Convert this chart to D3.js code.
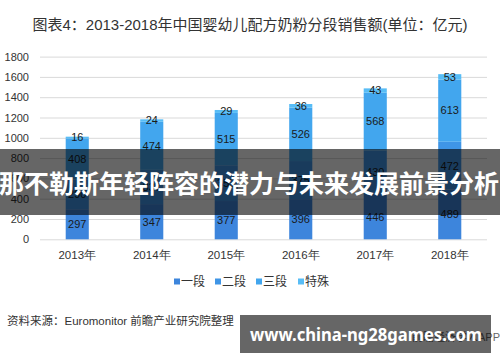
<!DOCTYPE html>
<html>
<head>
<meta charset="utf-8">
<script src="https://cdn.jsdelivr.net/npm/d3@7"></script>
<style>
  body { margin: 0; background: #fff; }
  svg { display: block; font-family: "Liberation Sans", "Noto Sans CJK SC", sans-serif; }
</style>
</head>
<body>
<svg id="chart" width="500" height="362"></svg>
<script>
// data
var years = ["2013年", "2014年", "2015年", "2016年", "2017年", "2018年"];
var seriesNames = ["一段", "二段", "三段", "特殊"];
var stage1 = [297, 347, 377, 396, 446, 489];
var stage2 = [290, 337, 353, 375, 430, 472];
var stage3 = [408, 474, 515, 526, 568, 613];
var special = [16, 24, 29, 36, 43, 53];
var yTicks = [0, 200, 400, 600, 800, 1000, 1200, 1400, 1600, 1800];
var colors = ["#3d85dc", "#3f95e6", "#42a6ee", "#58bdf6"];

(function() {
  var svg = d3.select("#chart");

  // plot area edges
  var plotLeft = 40, plotRight = 487, plotTop = 56.6, plotBottom = 239.3;

  var x = d3.scaleBand().domain(years).range([plotLeft, plotRight])
      .paddingInner(0.69).paddingOuter(0.345);
  var y = d3.scaleLinear().domain([0, 1800]).range([plotBottom, plotTop]);

  // title
  svg.append("text")
      .attr("x", 250).attr("y", 30)
      .attr("text-anchor", "middle")
      .attr("font-size", 15)
      .attr("fill", "#333")
      .text("图表4：2013-2018年中国婴幼儿配方奶粉分段销售额(单位：亿元)");

  // gridlines + y labels
  var yAxis = svg.append("g")
      .attr("transform", "translate(" + plotLeft + ",0)")
      .call(d3.axisLeft(y).tickValues(yTicks).tickFormat(d3.format("d"))
        .tickSize(-(plotRight - plotLeft)).tickPadding(11));
  yAxis.select(".domain").remove();
  yAxis.selectAll(".tick line").attr("stroke", "#d9d9d9");
  yAxis.selectAll(".tick text")
      .attr("font-size", 11).attr("fill", "#333")
      .attr("font-family", "Liberation Sans, sans-serif");

  // x labels
  var xAxis = svg.append("g")
      .attr("transform", "translate(0," + plotBottom + ")")
      .call(d3.axisBottom(x).tickSize(0).tickPadding(12));
  xAxis.select(".domain").remove();
  xAxis.selectAll(".tick text")
      .attr("font-size", 11.5).attr("fill", "#333");

  // stacked bars
  var rows = years.map(function(yr, i) {
    return { year: yr, "一段": stage1[i], "二段": stage2[i], "三段": stage3[i], "特殊": special[i] };
  });
  var stacked = d3.stack().keys(seriesNames)(rows);

  var layers = svg.selectAll(".layer")
    .data(stacked)
    .enter().append("g")
      .attr("class", "layer")
      .attr("fill", function(d, i) { return colors[i]; });

  layers.selectAll("rect")
    .data(function(d) { return d; })
    .enter().append("rect")
      .attr("x", function(d) { return x(d.data.year); })
      .attr("y", function(d) { return y(d[1]); })
      .attr("width", x.bandwidth())
      .attr("height", function(d) { return y(d[0]) - y(d[1]); });

  layers.selectAll("text")
    .data(function(d) { return d.map(function(p) { return { p: p, key: d.key }; }); })
    .enter().append("text")
      .attr("x", function(d) { return x(d.p.data.year) + x.bandwidth() / 2; })
      .attr("y", function(d) { return (y(d.p[0]) + y(d.p[1])) / 2; })
      .attr("dy", "0.35em")
      .attr("text-anchor", "middle")
      .attr("font-size", 11)
      .attr("fill", "#1a1a1a")
      .text(function(d) { return d.p.data[d.key]; });

  // legend
  var legendX = [174, 215, 256, 298];
  seriesNames.forEach(function(name, i) {
    svg.append("rect")
        .attr("x", legendX[i]).attr("y", 278.5)
        .attr("width", 6).attr("height", 6)
        .attr("fill", colors[i]);
    svg.append("text")
        .attr("x", legendX[i] + 7).attr("y", 281.5)
        .attr("dy", "0.36em")
        .attr("font-size", 12).attr("fill", "#333")
        .text(name);
  });

  // source line
  svg.append("text")
      .attr("x", 7).attr("y", 325)
      .attr("font-size", 11.5).attr("fill", "#333")
      .text("资料来源：Euromonitor 前瞻产业研究院整理");

  svg.append("text")
      .attr("x", 500).attr("y", 341)
      .attr("text-anchor", "end")
      .attr("font-size", 11).attr("fill", "#666")
      .text("前瞻经济学人APP");

  // overlay band with headline
  svg.append("rect")
      .attr("x", 0).attr("y", 149)
      .attr("width", 500).attr("height", 66)
      .attr("fill", "#000").attr("fill-opacity", 0.6);
  svg.append("text")
      .attr("x", 249).attr("y", 184)
      .attr("dy", "0.36em")
      .attr("text-anchor", "middle")
      .attr("font-size", 25).attr("font-weight", "bold")
      .attr("fill", "#fff")
      .attr("font-family", "Noto Sans CJK SC, sans-serif")
      .text("那不勒斯年轻阵容的潜力与未来发展前景分析");

  // site box
  svg.append("rect")
      .attr("x", 240).attr("y", 315)
      .attr("width", 251).attr("height", 38)
      .attr("fill", "#000").attr("fill-opacity", 0.6);
  svg.append("text")
      .attr("x", 250).attr("y", 335)
      .attr("dy", "0.36em")
      .attr("font-size", 18).attr("font-weight", "bold")
      .attr("fill", "#fff")
      .attr("font-family", "Noto Sans, DejaVu Sans, sans-serif")
      .attr("textLength", 232).attr("lengthAdjust", "spacingAndGlyphs")
      .text("www.china-ng28games.com");
})();
</script>
</body>
</html>
